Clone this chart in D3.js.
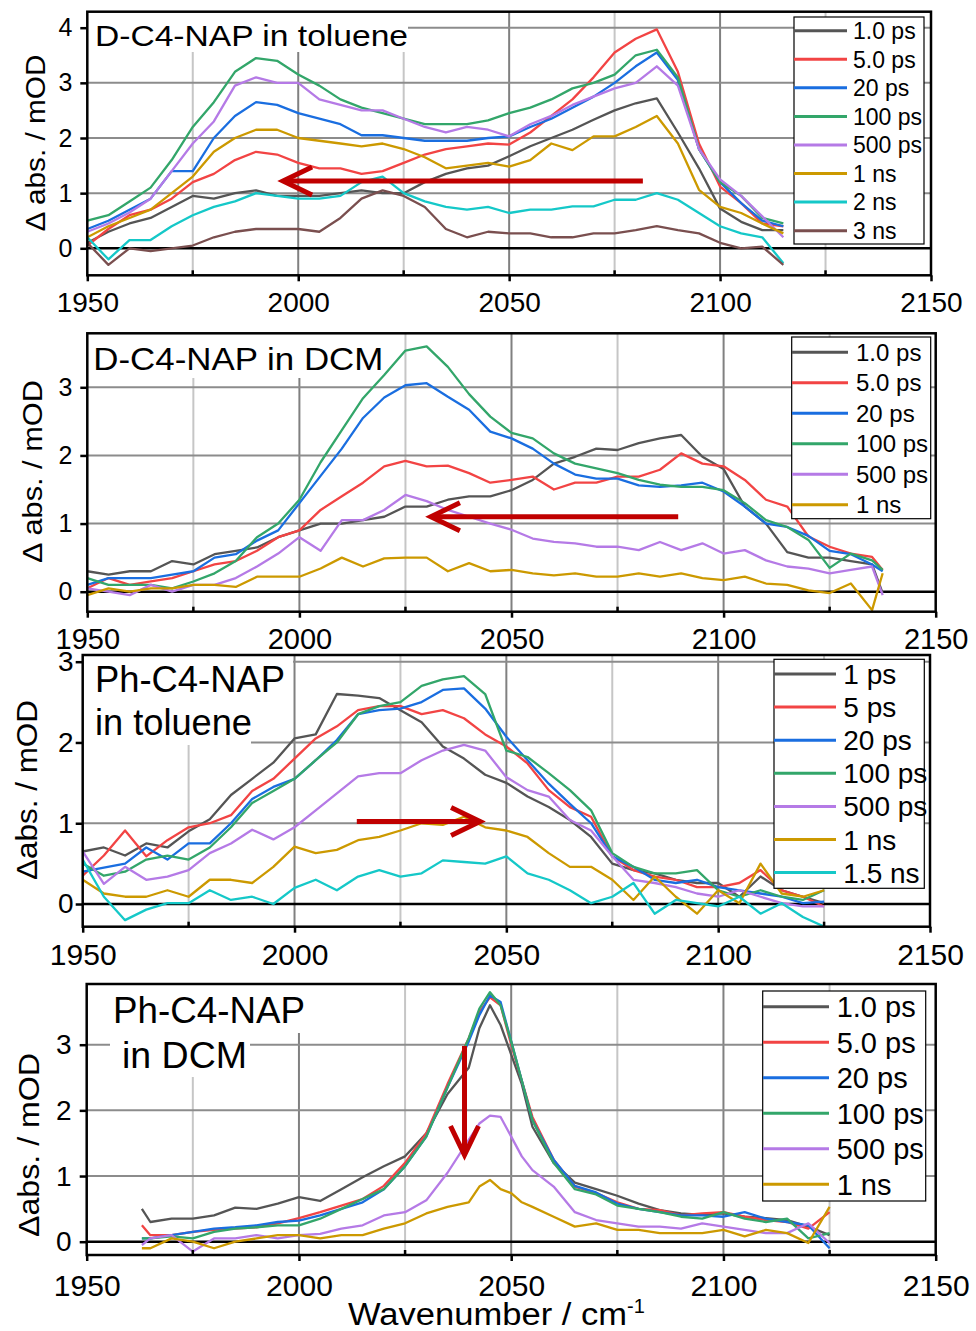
<!DOCTYPE html>
<html>
<head>
<meta charset="utf-8">
<script src="https://cdn.jsdelivr.net/npm/d3@7"></script>
<style>
  body { margin: 0; background: #fff; }
  svg { display: block; font-family: Arial, "Liberation Sans", sans-serif; }
</style>
</head>
<body>
<div id="chart"></div>
<script>
// ---- data (wavenumber in cm-1, signal in mOD) ----
var xTicks = [1950, 2000, 2050, 2100, 2150];
var xMinor = [1975, 2025, 2075, 2125];

// panel 1 : D-C4-NAP in toluene
var wn1 = [1950,1955,1960,1965,1970,1975,1980,1985,1990,1995,2000,2005,2010,2015,2020,2025,2030,2035,2040,2045,
           2050,2055,2060,2065,2070,2075,2080,2085,2090,2095,2100,2105,2110,2115];
var p1_1ps   = [0.10,0.30,0.45,0.55,0.75,0.95,0.90,1.00,1.05,0.95,0.95,0.95,1.00,1.05,1.00,1.00,1.20,1.35,1.45,1.50, 1.67,1.85,2.00,2.15,2.33,2.50,2.63,2.72,2.10,1.45,0.72,0.48,0.33,0.33];
var p1_5ps   = [0.05,0.35,0.60,0.70,0.90,1.20,1.35,1.60,1.75,1.70,1.55,1.45,1.45,1.35,1.40,1.55,1.70,1.80,1.85,1.90, 1.88,2.10,2.40,2.70,3.10,3.55,3.80,3.97,3.20,1.90,1.12,0.82,0.45,0.40];
var p1_20ps  = [0.35,0.50,0.70,0.90,1.40,1.40,2.00,2.40,2.65,2.60,2.45,2.35,2.25,2.05,2.05,2.00,1.95,1.95,1.95,2.00, 2.03,2.20,2.35,2.55,2.75,3.00,3.30,3.55,3.05,1.80,1.20,0.82,0.50,0.40];
var p1_100ps = [0.50,0.60,0.85,1.10,1.60,2.20,2.65,3.20,3.45,3.40,3.15,2.95,2.70,2.55,2.45,2.35,2.25,2.25,2.25,2.32, 2.45,2.55,2.70,2.90,3.00,3.15,3.50,3.60,3.10,1.80,1.20,0.95,0.55,0.45];
var p1_500ps = [0.30,0.45,0.65,0.90,1.40,1.90,2.30,2.95,3.10,3.00,3.00,2.70,2.60,2.50,2.50,2.35,2.20,2.10,2.20,2.15, 2.03,2.25,2.40,2.60,2.75,2.90,3.00,3.30,2.95,1.80,1.25,0.95,0.58,0.20];
var p1_1ns   = [0.20,0.40,0.55,0.70,1.00,1.30,1.75,2.00,2.15,2.15,2.00,1.95,1.90,1.85,1.90,1.80,1.65,1.45,1.50,1.55, 1.48,1.60,1.90,1.78,2.03,2.03,2.20,2.40,1.90,1.06,0.75,0.64,0.45,0.27];
var p1_2ns   = [0.20,-0.20,0.15,0.15,0.40,0.60,0.75,0.85,1.00,0.95,0.90,0.90,0.95,1.20,1.30,1.00,0.85,0.75,0.70,0.75, 0.64,0.70,0.70,0.76,0.76,0.88,0.88,1.00,0.88,0.64,0.40,0.27,0.20,-0.27];
var p1_3ns   = [0.10,-0.30,0.00,-0.05,0.00,0.05,0.20,0.30,0.35,0.35,0.35,0.30,0.55,0.90,1.05,0.95,0.75,0.35,0.20,0.30, 0.27,0.27,0.20,0.20,0.27,0.27,0.33,0.40,0.33,0.27,0.10,0.00,0.03,-0.30];
var legend1 = ["1.0 ps","5.0 ps","20 ps","100 ps","500 ps","1 ns","2 ns","3 ns"];

// panel 2 : D-C4-NAP in DCM
var wn2 = [1950,1955,1960,1965,1970,1975,1980,1985,1990,1995,2000,2005,2010,2015,2020,2025,2030,2035,2040,2045,
           2050,2055,2060,2065,2070,2075,2080,2085,2090,2095,2100,2105,2110,2115,2120,2125,2130,2135,2137.5];
var p2_1ps   = [0.30,0.25,0.30,0.30,0.45,0.40,0.55,0.60,0.65,0.80, 0.90,1.00,1.00,1.05,1.10,1.25,1.25,1.35,1.40,1.40, 1.49,1.64,1.88,1.98,2.10,2.08,2.18,2.25,2.30,1.98, 1.80,1.25,1.00,0.58,0.50,0.50,0.45,0.40,-0.02];
var p2_5ps   = [0.05,0.20,0.10,0.15,0.20,0.30,0.40,0.45,0.60,0.80, 0.90,1.20,1.40,1.60,1.84,1.92,1.84,1.85,1.74,1.60, 1.64,1.69,1.50,1.60,1.60,1.69,1.69,1.79,2.03,1.88, 1.84,1.64,1.35,1.25,0.81,0.66,0.56,0.51,0.32];
var p2_20ps  = [0.10,0.20,0.20,0.20,0.25,0.30,0.50,0.55,0.75,0.90, 1.30,1.70,2.10,2.55,2.85,3.03,3.06,2.86,2.67,2.35, 2.25,2.10,1.88,1.72,1.66,1.66,1.56,1.54,1.56,1.60, 1.47,1.25,1.00,0.95,0.82,0.60,0.55,0.40,0.30];
var p2_100ps = [0.20,0.10,0.10,0.10,0.05,0.15,0.27,0.45,0.80,1.00, 1.35,1.90,2.37,2.84,3.18,3.54,3.60,3.30,2.90,2.57, 2.33,2.25,2.03,1.88,1.81,1.74,1.64,1.57,1.54,1.54, 1.49,1.30,1.05,0.95,0.76,0.35,0.56,0.46,0.32];
var p2_500ps = [0.05,0.00,-0.05,0.10,0.00,0.10,0.10,0.20,0.37,0.56, 0.80,0.60,1.05,1.05,1.20,1.42,1.33,1.20,1.10,1.00, 0.91,0.78,0.73,0.71,0.66,0.66,0.61,0.73,0.61,0.71, 0.56,0.61,0.46,0.37,0.34,0.27,0.32,0.37,-0.05];
var p2_1ns   = [-0.05,0.05,0.00,0.05,0.05,0.10,0.10,0.07,0.22,0.22, 0.22,0.34,0.50,0.37,0.49,0.50,0.50,0.30,0.42,0.30, 0.32,0.27,0.24,0.27,0.22,0.22,0.27,0.22,0.27,0.20, 0.17,0.22,0.12,0.10,0.02,-0.02,0.12,-0.27,0.27];
var legend2 = ["1.0 ps","5.0 ps","20 ps","100 ps","500 ps","1 ns"];

// panel 3 : Ph-C4-NAP in toluene
var wn3 = [1950,1955,1960,1965,1970,1975,1980,1985,1990,1995,2000,2005,2010,2015,2020,2025,2030,2035,2040,2045,
           2050,2055,2060,2065,2070,2075,2080,2085,2090,2095,2100,2105,2110,2115,2120,2125];
var p3_1ps   = [0.65,0.70,0.60,0.75,0.70,0.90,1.05,1.35,1.55,1.75, 2.05,2.10,2.60,2.58,2.55,2.40,2.25,1.95,1.80,1.60, 1.50,1.33,1.20,1.04,0.83,0.50,0.42,0.38,0.30,0.26, 0.26,0.09,0.34,0.17,0.09,0.01];
var p3_5ps   = [0.35,0.60,0.91,0.59,0.79,0.95,1.00,1.10,1.40,1.55, 1.80,2.05,2.20,2.40,2.45,2.45,2.35,2.40,2.30,2.10, 1.95,1.74,1.41,1.20,1.08,0.59,0.42,0.34,0.30,0.21, 0.21,0.26,0.42,0.17,0.09,-0.03];
var p3_20ps  = [0.40,0.45,0.50,0.70,0.55,0.75,0.75,1.00,1.30,1.45, 1.55,1.78,2.03,2.35,2.40,2.42,2.50,2.65,2.67,2.42, 2.07,1.78,1.49,1.24,1.00,0.59,0.46,0.30,0.26,0.30, 0.21,0.17,0.13,0.09,0.01,0.03];
var p3_100ps = [0.50,0.35,0.40,0.55,0.60,0.55,0.70,0.95,1.25,1.40, 1.55,1.78,2.00,2.35,2.45,2.50,2.70,2.78,2.82,2.60, 1.90,1.82,1.62,1.41,1.16,0.63,0.46,0.38,0.38,0.42, 0.17,0.09,0.17,0.09,0.05,0.17];
var p3_500ps = [0.65,0.25,0.46,0.30,0.34,0.42,0.63,0.75,0.92,0.80, 0.95,1.16,1.37,1.58,1.62,1.62,1.78,1.90,1.97,1.90, 1.57,1.41,1.33,1.04,0.91,0.59,0.30,0.26,0.21,0.13, 0.09,0.17,0.09,0.01,-0.03,-0.03];
var p3_1ns   = [0.30,0.13,0.09,0.09,0.17,0.09,0.30,0.30,0.26,0.46, 0.71,0.63,0.67,0.79,0.83,0.91,1.00,0.98,1.08,0.95, 0.91,0.83,0.63,0.46,0.46,0.30,0.05,0.34,0.09,-0.12, 0.17,0.01,0.50,0.13,0.09,0.17];
var p3_15ns  = [0.55,0.09,-0.20,-0.07,0.01,0.01,0.17,0.05,0.09,0.00, 0.20,0.30,0.17,0.34,0.42,0.34,0.38,0.54,0.52,0.50, 0.59,0.38,0.30,0.17,0.01,0.09,0.26,-0.12,0.05,0.01, -0.03,0.09,-0.12,0.01,-0.16,-0.28];
var legend3 = ["1 ps","5 ps","20 ps","100 ps","500 ps","1 ns","1.5 ns"];

// panel 4 : Ph-C4-NAP in DCM
var wn4 = [1963,1965,1970,1975,1980,1985,1990,1995,2000,2005, 2010,2015,2020,2025,2030,2035,2040,2042.5,2045,2047.5,
           2050,2052.5,2055,2060,2065,2070,2075,2080,2085,2090, 2095,2100,2105,2110,2115,2120,2125];
var p4_1ps   = [0.50,0.30,0.35,0.35,0.40,0.52,0.50,0.58,0.68,0.62, 0.80,0.98,1.15,1.30,1.65,2.25,2.65,3.25,3.60,3.30, 2.85,2.40,1.75,1.20,0.90,0.80,0.70,0.58,0.48,0.43, 0.41,0.43,0.38,0.36,0.33,0.23,0.10];
var p4_5ps   = [0.25,0.10,0.10,0.15,0.18,0.20,0.22,0.28,0.36,0.45, 0.55,0.65,0.85,1.20,1.65,2.40,3.10,3.50,3.72,3.60, 3.00,2.45,1.90,1.25,0.84,0.74,0.60,0.50,0.48,0.40, 0.43,0.45,0.38,0.33,0.30,0.20,0.45];
var p4_20ps  = [0.05,0.05,0.10,0.15,0.20,0.22,0.25,0.30,0.32,0.40, 0.50,0.60,0.80,1.15,1.60,2.35,3.05,3.45,3.75,3.65, 3.05,2.45,1.85,1.25,0.85,0.75,0.58,0.50,0.45,0.40, 0.40,0.38,0.45,0.35,0.30,0.25,-0.10];
var p4_100ps = [0.05,0.05,0.08,0.05,0.15,0.20,0.22,0.25,0.25,0.35, 0.50,0.65,0.80,1.15,1.60,2.35,3.10,3.55,3.80,3.60, 3.05,2.45,1.85,1.20,0.80,0.72,0.55,0.50,0.45,0.38, 0.35,0.45,0.35,0.30,0.35,0.05,0.13];
var p4_500ps = [-0.05,0.05,0.10,-0.15,0.05,0.05,0.10,0.05,0.10,0.12, 0.20,0.25,0.40,0.45,0.63,1.05,1.55,1.80,1.92,1.90, 1.60,1.30,1.09,0.84,0.45,0.33,0.28,0.23,0.23,0.20, 0.28,0.23,0.18,0.13,0.13,0.28,-0.02];
var p4_1ns   = [-0.10,-0.10,0.05,0.00,-0.10,0.00,0.05,0.10,0.10,0.05, 0.10,0.10,0.20,0.28,0.43,0.53,0.60,0.84,0.94,0.80, 0.74,0.60,0.53,0.38,0.23,0.28,0.18,0.18,0.13,0.13, 0.13,0.18,0.08,0.18,0.13,-0.02,0.53];
var legend4 = ["1.0 ps","5.0 ps","20 ps","100 ps","500 ps","1 ns"];

var colors = ["#555555","#f24444","#1a6ee0","#33a66a","#b57ae6","#cc9900","#15c8c8","#7a4f4f"];
var arrowColor = "#c00000";

// ---- layout of each panel (pixels) ----
var panels = [
  { wn: wn1, series: [p1_1ps,p1_5ps,p1_20ps,p1_100ps,p1_500ps,p1_1ns,p1_2ns,p1_3ns], legend: legend1,
    xl: 87.3, xr: 931, top: 11.7, bottom: 275.3, y0: 248.3, yRef: 4, yRefPx: 27.7, yTicks: [0,1,2,3,4],
    xFont: 28, xPad: 10.4, yFont: 25, yPad: 8,
    titles: [{t: "D-C4-NAP in toluene", x: 95, y: 46, f: 29, len: 313, box: [88,12,408,52]}],
    yTitle: {t: "\u0394 abs. / mOD", x: 45, y: 143, f: 28, len: 177},
    leg: {box: [794,17,924,244], y0: 30.7, dy: 28.57, l0: 794, l1: 847, tx: 853, f: 23},
    arrow: [2081.7, 1.22, 1996.4, 1.22] },
  { wn: wn2, series: [p2_1ps,p2_5ps,p2_20ps,p2_100ps,p2_500ps,p2_1ns], legend: legend2,
    xl: 87.3, xr: 935.7, top: 333.3, bottom: 611.7, y0: 591.7, yRef: 3, yRefPx: 387.3, yTicks: [0,1,2,3],
    xFont: 29, xPad: 10.6, yFont: 25, yPad: 8,
    titles: [{t: "D-C4-NAP in DCM", x: 93.3, y: 370, f: 31, len: 290, box: [88,334,387,378]}],
    yTitle: {t: "\u0394 abs. / mOD", x: 42, y: 471.5, f: 28, len: 183},
    leg: {box: [791.7,337,930.7,518.7], y0: 352.3, dy: 30.5, l0: 792, l1: 848, tx: 856, f: 24},
    arrow: [2089.3, 1.1, 2031, 1.1] },
  { wn: wn3, series: [p3_1ps,p3_5ps,p3_20ps,p3_100ps,p3_500ps,p3_1ns,p3_15ns], legend: legend3,
    xl: 82.7, xr: 930, top: 655, bottom: 926.7, y0: 904, yRef: 3, yRefPx: 661.7, yTicks: [0,1,2,3],
    xFont: 30, xPad: 10.6, yFont: 28, yPad: 2,
    titles: [{t: "Ph-C4-NAP", x: 95, y: 691.7, f: 36, len: 190, box: [83,656,293,700]},
             {t: "in toluene", x: 95, y: 735, f: 36, len: 157, box: [83,700,251,745]}],
    yTitle: {t: "\u0394abs. / mOD", x: 37, y: 790, f: 30, len: 180},
    leg: {box: [774,659.3,924.3,888.3], y0: 674, dy: 33.1, l0: 774, l1: 836, tx: 843.3, f: 28},
    arrow: [2014.7, 1.02, 2043.8, 1.02] },
  { wn: wn4, series: [p4_1ps,p4_5ps,p4_20ps,p4_100ps,p4_500ps,p4_1ns], legend: legend4,
    xl: 86.7, xr: 935.7, top: 984, bottom: 1255, y0: 1241.7, yRef: 3, yRefPx: 1044.7, yTicks: [0,1,2,3],
    xFont: 30, xPad: 14, yFont: 28, yPad: 8,
    titles: [{t: "Ph-C4-NAP", x: 113, y: 1023, f: 36, len: 192, box: [88,985,305,1033]},
             {t: "in DCM", x: 122, y: 1068, f: 36, len: 125, box: [110,1033,250,1077]}],
    yTitle: {t: "\u0394abs. / mOD", x: 38.5, y: 1145, f: 30, len: 184},
    leg: {box: [762.7,991,925.7,1201], y0: 1006.7, dy: 35.5, l0: 763, l1: 829, tx: 836.7, f: 29},
    arrow: [2039, 2.98, 2039, 1.32] }
];

var svg = d3.select("#chart").append("svg")
    .attr("width", 976)
    .attr("height", 1331);

function drawPanel(p, n) {
  var x = d3.scaleLinear().domain([1950, 2150]).range([p.xl, p.xr]);
  var y = d3.scaleLinear().domain([0, p.yRef]).range([p.y0, p.yRefPx]);
  var g = svg.append("g");

  var clipId = "clip" + n;
  svg.append("clipPath").attr("id", clipId).append("rect")
      .attr("x", p.xl).attr("y", p.top)
      .attr("width", p.xr - p.xl).attr("height", p.bottom - p.top);

  // grid
  g.selectAll(".vgrid").data(xMinor.concat([2000, 2050, 2100])).enter().append("line")
      .attr("x1", function(d){ return x(d); }).attr("x2", function(d){ return x(d); })
      .attr("y1", p.top).attr("y2", p.bottom)
      .attr("stroke", function(d){ return d % 50 === 0 ? "#808080" : "#c6c6c6"; })
      .attr("stroke-width", 2);
  g.selectAll(".hgrid").data(p.yTicks.filter(function(v){ return v !== 0; })).enter().append("line")
      .attr("x1", p.xl).attr("x2", p.xr)
      .attr("y1", function(d){ return y(d); }).attr("y2", function(d){ return y(d); })
      .attr("stroke", "#8c8c8c").attr("stroke-width", 2);
  g.append("line")
      .attr("x1", p.xl).attr("x2", p.xr).attr("y1", y(0)).attr("y2", y(0))
      .attr("stroke", "#000").attr("stroke-width", 2.5);

  // white boxes behind the panel titles
  p.titles.forEach(function(t){
    g.append("rect")
        .attr("x", t.box[0]).attr("y", t.box[1])
        .attr("width", t.box[2] - t.box[0]).attr("height", t.box[3] - t.box[1])
        .attr("fill", "#fff");
  });

  // spectra
  var line = d3.line()
      .x(function(d){ return x(d[0]); })
      .y(function(d){ return y(d[1]); });
  var lines = g.append("g").attr("clip-path", "url(#" + clipId + ")");
  p.series.forEach(function(s, i){
    lines.append("path")
        .datum(p.wn.map(function(w, k){ return [w, s[k]]; }))
        .attr("d", line)
        .attr("fill", "none")
        .attr("stroke", colors[i])
        .attr("stroke-width", 2.3)
        .attr("stroke-linejoin", "round");
  });

  // titles
  p.titles.forEach(function(t){
    g.append("text")
        .attr("x", t.x).attr("y", t.y)
        .attr("font-size", t.f)
        .attr("textLength", t.len).attr("lengthAdjust", "spacingAndGlyphs")
        .text(t.t);
  });

  // arrow
  var ax1 = x(p.arrow[0]), ay1 = y(p.arrow[1]), ax2 = x(p.arrow[2]), ay2 = y(p.arrow[3]);
  var len = Math.sqrt((ax2-ax1)*(ax2-ax1) + (ay2-ay1)*(ay2-ay1));
  var ux = (ax2-ax1)/len, uy = (ay2-ay1)/len;
  g.append("line")
      .attr("x1", ax1).attr("y1", ay1).attr("x2", ax2 - ux*2).attr("y2", ay2 - uy*2)
      .attr("stroke", arrowColor).attr("stroke-width", 5);
  g.append("path")
      .attr("d", "M" + (ax2 - ux*29 - uy*14) + "," + (ay2 - uy*29 + ux*14) +
                 "L" + ax2 + "," + ay2 +
                 "L" + (ax2 - ux*29 + uy*14) + "," + (ay2 - uy*29 - ux*14))
      .attr("fill", "none").attr("stroke", arrowColor).attr("stroke-width", 5)
      .attr("stroke-linejoin", "miter");

  // legend
  var L = p.leg;
  g.append("rect")
      .attr("x", L.box[0]).attr("y", L.box[1])
      .attr("width", L.box[2] - L.box[0]).attr("height", L.box[3] - L.box[1])
      .attr("fill", "#fff").attr("stroke", "#000").attr("stroke-width", 1.2);
  p.legend.forEach(function(lab, i){
    var ly = L.y0 + i * L.dy;
    g.append("line")
        .attr("x1", L.l0).attr("x2", L.l1).attr("y1", ly).attr("y2", ly)
        .attr("stroke", colors[i]).attr("stroke-width", 3);
    g.append("text")
        .attr("x", L.tx).attr("y", ly).attr("dy", "0.36em")
        .attr("font-size", L.f)
        .text(lab);
  });

  // frame
  g.append("rect")
      .attr("x", p.xl).attr("y", p.top)
      .attr("width", p.xr - p.xl).attr("height", p.bottom - p.top)
      .attr("fill", "none").attr("stroke", "#000").attr("stroke-width", 2.5);

  // axes
  var xa = g.append("g")
      .attr("transform", "translate(0," + p.bottom + ")")
      .call(d3.axisBottom(x).tickValues(xTicks).tickFormat(d3.format("d"))
              .tickSizeInner(6).tickSizeOuter(0).tickPadding(p.xPad));
  xa.select(".domain").remove();
  xa.selectAll("line").attr("stroke", "#000").attr("stroke-width", 2.5);
  xa.selectAll("text").attr("font-size", p.xFont).attr("font-family", "Arial, 'Liberation Sans', sans-serif").attr("fill", "#000");

  g.selectAll(".minor").data(xMinor).enter().append("line")
      .attr("x1", function(d){ return x(d); }).attr("x2", function(d){ return x(d); })
      .attr("y1", p.bottom).attr("y2", p.bottom - 5)
      .attr("stroke", "#000").attr("stroke-width", 2.5);

  var ya = g.append("g")
      .attr("transform", "translate(" + p.xl + ",0)")
      .call(d3.axisLeft(y).tickValues(p.yTicks).tickFormat(d3.format("d"))
              .tickSizeInner(7).tickSizeOuter(0).tickPadding(p.yPad));
  ya.select(".domain").remove();
  ya.selectAll("line").attr("stroke", "#000").attr("stroke-width", 2.5);
  ya.selectAll("text").attr("font-size", p.yFont).attr("font-family", "Arial, 'Liberation Sans', sans-serif").attr("fill", "#000");

  // y title
  g.append("text")
      .attr("transform", "translate(" + p.yTitle.x + "," + p.yTitle.y + ") rotate(-90)")
      .attr("text-anchor", "middle")
      .attr("font-size", p.yTitle.f)
      .attr("textLength", p.yTitle.len).attr("lengthAdjust", "spacingAndGlyphs")
      .text(p.yTitle.t);
}

panels.forEach(drawPanel);

// x axis title under the last panel
var xt = svg.append("text")
    .attr("x", 348).attr("y", 1325)
    .attr("font-size", 31);
xt.append("tspan")
    .attr("textLength", 279).attr("lengthAdjust", "spacingAndGlyphs")
    .text("Wavenumber / cm");
xt.append("tspan")
    .attr("font-size", 20).attr("dy", -12)
    .text("-1");
</script>
</body>
</html>
